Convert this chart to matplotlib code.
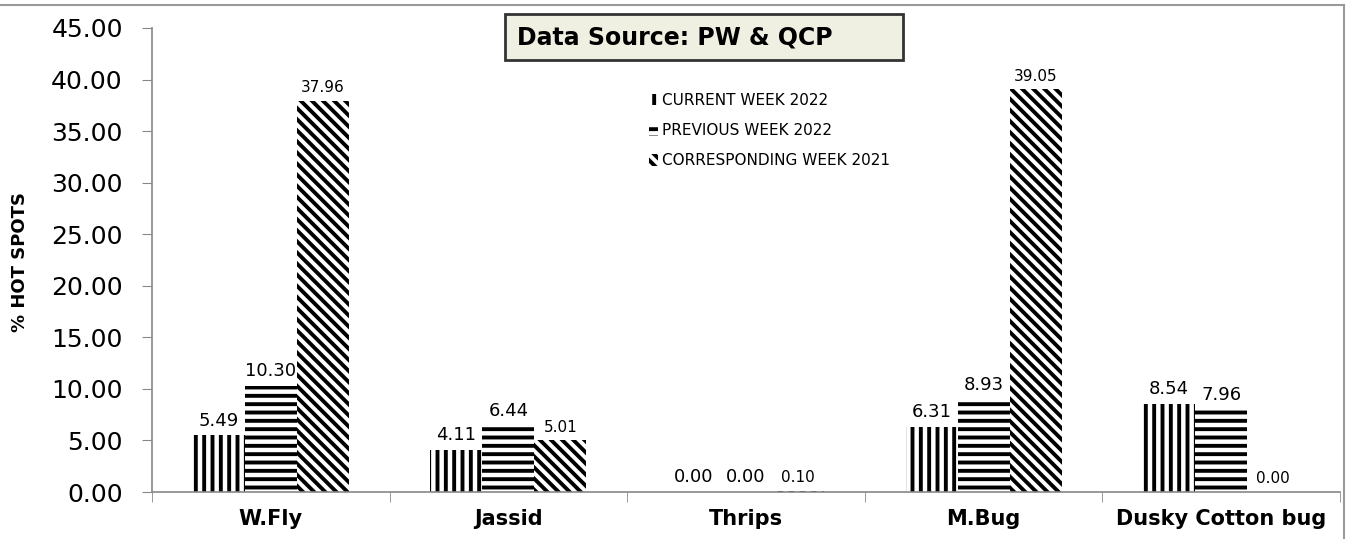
import numpy as np
import matplotlib.pyplot as plt
from matplotlib.patches import Rectangle
from matplotlib.lines import Line2D

pests = ['W.Fly', 'Jassid', 'Thrips', 'M.Bug', 'Dusky Cotton bug']
current_2022 = [5.49, 4.11, 0.00, 6.31, 8.54]
previous_2022 = [10.30, 6.44, 0.00, 8.93, 7.96]
corresp_2021 = [37.96, 5.01, 0.10, 39.05, 0.00]

series = [
    ('CURRENT WEEK 2022', current_2022, '||', 13),
    ('PREVIOUS WEEK 2022', previous_2022, '--', 13),
    ('CORRESPONDING WEEK 2021', corresp_2021, '\\' * 3, 11),
]

plt.rcParams['hatch.linewidth'] = 2.8
plt.rcParams['font.family'] = 'DejaVu Sans'

fig = plt.figure(figsize=(13.47, 5.39), dpi=100)
ax = fig.add_axes([152/1347, 1 - 492/539, (1340 - 152)/1347, (492 - 28)/539])

x = np.arange(len(pests))
w = 0.219
for i, (name, vals, hatch, fs) in enumerate(series):
    pos = x + (i - 1) * w
    ax.bar(pos, vals, w, facecolor='white', edgecolor='black',
           linewidth=0, hatch=hatch, label=name)
    for xp, v in zip(pos, vals):
        ax.annotate('%.2f' % v, (xp, v), xytext=(0, 4), textcoords='offset points',
                    ha='center', va='bottom', fontsize=fs)

ax.set_xlim(-0.5, len(pests) - 0.5)
ax.set_ylim(0, 45)
yt = np.arange(0, 45.1, 5)
ax.set_yticks(yt)
ax.set_yticklabels(['%.2f' % t for t in yt], fontsize=18)
ax.set_xticks(x)
ax.set_xticklabels(pests, fontsize=15, fontweight='bold')
ax.set_xticks(np.arange(-0.5, len(pests), 1), minor=True)
ax.tick_params(axis='x', which='major', length=0, pad=12)
ax.tick_params(axis='x', which='minor', length=7, color='#888888', direction='out')
ax.tick_params(axis='y', length=7, color='#888888', direction='out', pad=14)
for s in ['top', 'right']:
    ax.spines[s].set_visible(False)
for s in ['left', 'bottom']:
    ax.spines[s].set_color('#888888')
    ax.spines[s].set_linewidth(1.2)

fig.text(20/1347, 1 - 262/539, '% HOT SPOTS', fontsize=13, fontweight='bold',
         rotation=90, ha='center', va='center')

ax.legend(loc='upper left', bbox_to_anchor=(635/1347, 1 - 79/539),
          bbox_transform=fig.transFigure, frameon=False, fontsize=11,
          handlelength=0.6, handleheight=0.8, handletextpad=0.3,
          labelspacing=1.0)

# data source box
fig.patches.append(Rectangle((505/1347, 1 - 60/539), 398/1347, 46/539,
                             transform=fig.transFigure, facecolor='#EFF0E1',
                             edgecolor='#333333', linewidth=2))
fig.text(517/1347, 1 - 37/539, 'Data Source: PW & QCP', fontsize=17,
         fontweight='bold', va='center', ha='left')

# outer frame
fig.lines.append(Line2D([0, 1344/1347], [1 - 5/539, 1 - 5/539], transform=fig.transFigure,
                        color='#999999', linewidth=1.5))
fig.lines.append(Line2D([1344/1347, 1344/1347], [0, 1 - 5/539], transform=fig.transFigure,
                        color='#999999', linewidth=1.5))

fig.savefig('out.png', dpi=100)
